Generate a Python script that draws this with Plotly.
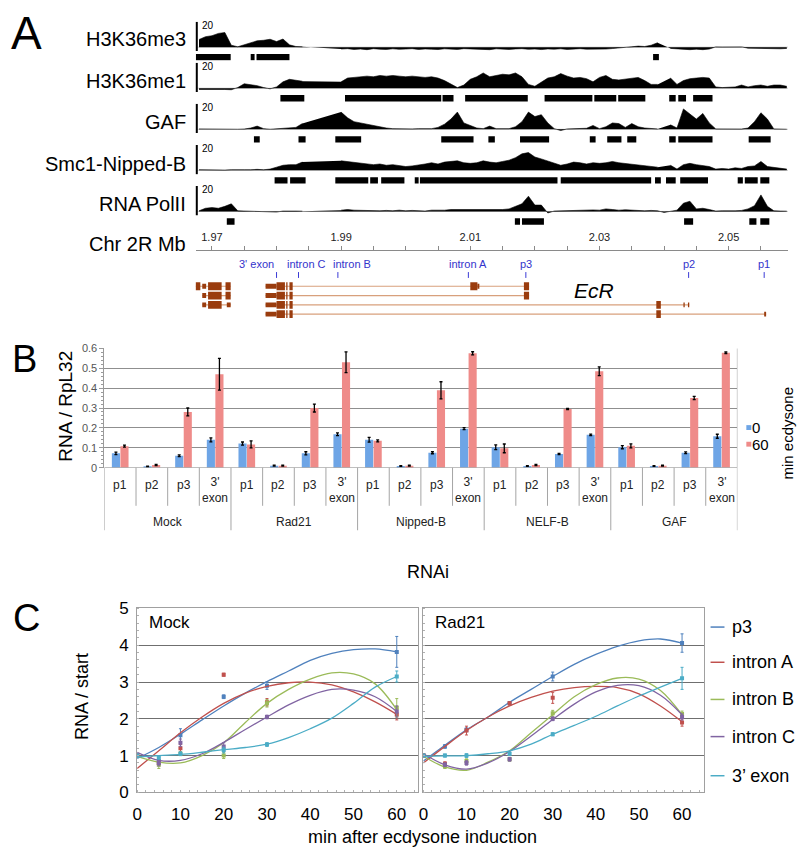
import numpy as np
import plotly.graph_objects as go

W, H = 800, 862
FONT = "Liberation Sans, Arial, Helvetica, sans-serif"


def px(x):
    return x / W


def py(y):
    return 1 - y / H


# ====================== Panel A data ======================
track_names = ["H3K36me3", "H3K36me1", "GAF", "Smc1-Nipped-B", "RNA PolII"]
genome_pos = np.round(np.arange(1.968, 2.0595, 0.001), 4).tolist()  # Mb, 92 bins
N = None
sig_h3k36me3 = [6, 8.2, 9, 10.8, 11.5, 1.5, 0.3, 1.8, 3, 5, 5.4, 6.2, 4.4, 6.4, 1.8, 0.5, 0.3,
                N, N, N, N, N,
                -1.5, -1.2, -1.8, -1.5, -2, -1.2, -1.6, -1.8, -1.3, -1.7,
                -1.5, -1.2, -1.8, -1.4, -1.6, -1.9, -1.3, -1.5, -1.8, -1.2, -1.4, -1.7, -1.5, -2, -1.3,
                -1.6, -1.8, -1.4, -1.2, -1.7, -1.5, -1.9, -1.4, -1.6, -1.3, -1.8, -1.5, -1.2, -1.6,
                -1.7, -1.4, -1.5, -1.1, -0.8, -0.5, 0.3, 0.8,
                0.5, 1.5, 3.5, N, -1, -1.5, -1.8, -2, -1.6, -2, -1.5, 0.2, 0.1, 0.2, 0.1, 0.2,
                -0.8, -1, -1.2, -0.9, -1.1, -1.3, -1]
sig_h3k36me1 = [-1, -1, -0.8, -0.5, -1, -1.2, 0.5, 3.5, 3, 2, 0.5, -0.5, 1, 5, 7, 6.5, 5.5,
                N, N, N, N, N,
                5, 8, 8.5, 9, 9.5, 9, 10, 9.5, 10, 9.5,
                9, 9.5, 9, 8.5, 9, 8, 6, 3, 0.5, 2.5, 7, 9, 12, 9, 10, 11, 10.5, 12, 9, 3,
                1.5, 5, 8, 9, 11.5, 9.5, 8, 8.5, 7.5, 5, 8.5, 10, 7, 6.5, 7, 8, 8.5, 6, 3, 3,
                N,
                8, 3, 6, 7.5, 8, 8.5, 8, 1, 0.5, 0.5, 1, 2.5, 1, 2, 2.5, 1.5, 2.5, 2.5, 1.5]
sig_gaf = [0.3, 0.2, 0.5, 0.2, 0, -0.3, 0, 0.2, 1, 2.5, 0.5, 0, 0.5, 0.8, 1, 1.5, 4.5,
           N, N, N, N, N,
           13.5, 9, 6, 5, 3.5, 2.5, 1.5, 1, 0.5, 0.3,
           0.3, 0.3, 0.5, 0.3, 0.5, 1.5, 4, 8, 13.5, 5, 3, 1, 0.5, 2.5, 0.5, 0.3, 0.5, 2, 6, 13.5,
           10, 11.5, 5, 0.5, -1, 0.3, 0.5, 0.3, 0.8, 3, 0.5, 2, 5, 4.5, 1.5, 4.5, 2, 1, 0.5, 0.3,
           N,
           3.5, 1, 16, 12, 8, 12.5, 5, 0.3, 0.2, 0, 0.2, 0.2, 1, 6, 13, 8, 0.3, 0.2, 0]
sig_smc1 = [0.5, 0.3, 0.5, 0.3, 0.2, 0.5, 0.3, 0.5, 0.5, 0.8, 0.5, 1, 2.5, 4, 4.5, 4.5, 6.5,
            N, N, N, N, N,
            7.5, 7, 6.5, 6, 5, 4.5, 5, 4, 4.5, 4,
            3, 3.5, 4, 5, 6, 5, 6.5, 7, 7.5, 6, 5.5, 6, 7.5, 6.5, 6, 7, 8, 10, 13, 14,
            10.5, 9, 7.5, 6, 4, 5, 6.5, 6, 5, 6, 5.5, 6, 7, 6, 5.5, 5, 4.5, 4, 3.5, 2.5,
            N,
            4, 1, 4.5, 5.5, 4.5, 4, 3, 1, 1.5, 1, 2, 1.5, 3, 3.5, 7, 3, 2.5, 2, 1]
sig_polii = [0.5, 2.5, 3, 2.5, 4, 6, 0.5, 0.3, 0.5, 0.3, 0, -0.3, -0.5, 0.3, 0.5, 0.3, 0.2,
             N, N, N, N, N,
             1, 1.5, 1, 0.8, 0.5, 0.8, 0.5, 0.8, 0.5, 1,
             0.5, 0.8, 0.5, 0.3, 1, 0.8, 1, 1.5, 1.5, 1.2, 1, 1.5, 1, 1.5, 1.3, 1.5, 2, 4, 6, 12,
             5, 5, -1.2, 0.3, 0.5, 0.8, 0.5, 0.8, 1, 1.2, 1, 2, 1.5, 1, 1.3, 1, 1, 0.5, 0.8, 0.5,
             -0.8,
             0.3, 1, 6.5, 8, 2, 2.5, 1.5, 0.3, 0.5, 0.3, 0.5, 0.8, 2, 4.5, 13, 4, 0.5, 0.3, 0.2]
track_signals = [sig_h3k36me3, sig_h3k36me1, sig_gaf, sig_smc1, sig_polii]

peaks_h3k36me3 = [(1.9675, 1.9729), (1.9760, 1.9766), (1.9769, 1.9820), (2.0383, 2.0392)]
peaks_h3k36me1 = [(1.9806, 1.9843), (1.9906, 2.0055), (2.0057, 2.0074), (2.0092, 2.0189),
                  (2.0215, 2.0289), (2.0292, 2.0326), (2.0329, 2.0371), (2.0408, 2.0418),
                  (2.0422, 2.0434), (2.0445, 2.0475)]
peaks_gaf = [(1.9765, 1.9774), (1.9834, 1.9845), (1.9891, 1.9931), (2.0055, 2.0105),
             (2.0128, 2.0138), (2.0177, 2.0222), (2.0285, 2.0294), (2.0312, 2.0334),
             (2.0343, 2.0357), (2.0408, 2.0418), (2.0422, 2.0475), (2.0531, 2.0565)]
peaks_smc1 = [(1.9797, 1.9817), (1.9821, 1.9845), (1.9891, 1.9942), (1.9945, 1.9957),
              (1.9962, 1.9998), (2.0014, 2.0020), (2.0022, 2.0235), (2.0240, 2.0380),
              (2.0386, 2.0395), (2.0403, 2.0418), (2.0425, 2.0468), (2.0514, 2.0522),
              (2.0525, 2.0545), (2.0549, 2.0563)]
peaks_polii = [(1.9723, 1.9735), (2.0169, 2.0177), (2.0180, 2.0214), (2.0431, 2.0445),
               (2.0532, 2.0543), (2.0549, 2.0563)]
track_peaks = [peaks_h3k36me3, peaks_h3k36me1, peaks_gaf, peaks_smc1, peaks_polii]

genome_range = [1.9675, 2.0592]
genome_ticks = [1.97, 1.99, 2.01, 2.03, 2.05]

# gene models: (row, start Mb, end Mb, kind T=coding/S=UTR)
cg_spans = [(0, 1.9674, 1.9729), (1, 1.9685, 1.9729), (2, 1.9685, 1.9729)]
cg_exons = [(0, 1.9674, 1.9682, "T"), (0, 1.9685, 1.9691, "S"), (0, 1.9694, 1.9715, "T"),
            (0, 1.9721, 1.9729, "T"),
            (1, 1.9685, 1.9691, "S"), (1, 1.9694, 1.9715, "T"), (1, 1.9721, 1.9729, "T"),
            (2, 1.9685, 1.9691, "S"), (2, 1.9694, 1.9715, "T"), (2, 1.9723, 1.9729, "S")]
ecr_spans = [(0, 1.9783, 2.0191), (1, 1.9783, 2.0191), (2, 1.9783, 2.0439), (3, 1.9783, 2.0558)]
ecr_exons = []
for r in range(4):
    ecr_exons += [(r, 1.9783, 1.9800, "S"), (r, 1.9800, 1.9813, "T"),
                  (r, 1.9815, 1.9817, "T"), (r, 1.9820, 1.9825, "T")]
ecr_exons += [(0, 2.0100, 2.0111, "T"), (0, 2.0111, 2.0114, "S"), (0, 2.0183, 2.0191, "T"),
              (1, 2.0183, 2.0191, "T"),
              (2, 2.0388, 2.0395, "T"), (2, 2.0430, 2.0432, "S"), (2, 2.0437, 2.0439, "S"),
              (3, 2.0388, 2.0395, "T"), (3, 2.0555, 2.0558, "S")]

probe_names = ["3' exon", "intron C", "intron B", "intron A", "p3", "p2", "p1"]
probe_pos = [1.9800, 1.9834, 1.9895, 2.0097, 2.0186, 2.0438, 2.0555]
probe_label_pos = [1.9769, 1.9846, 1.9917, 2.0097, 2.0186, 2.0438, 2.0555]

# ====================== Panel B data ======================
rnai_groups = ["Mock", "Rad21", "Nipped-B", "NELF-B", "GAF"]
amplicons = ["p1", "p2", "p3", "3'<br>exon"]
rna_0min = [0.072, 0.005, 0.060, 0.140, 0.121, 0.010, 0.072, 0.168, 0.140, 0.008, 0.075, 0.196,
            0.103, 0.008, 0.069, 0.165, 0.103, 0.008, 0.075, 0.158]
err_0min = [0.006, 0.002, 0.004, 0.010, 0.008, 0.002, 0.008, 0.007, 0.012, 0.002, 0.005, 0.005,
            0.012, 0.002, 0.003, 0.004, 0.008, 0.002, 0.004, 0.010]
rna_60min = [0.108, 0.013, 0.280, 0.470, 0.117, 0.010, 0.300, 0.530, 0.135, 0.010, 0.389, 0.575,
             0.097, 0.013, 0.295, 0.485, 0.110, 0.010, 0.350, 0.578]
err_60min = [0.005, 0.003, 0.020, 0.080, 0.018, 0.002, 0.020, 0.052, 0.005, 0.002, 0.043, 0.008,
             0.022, 0.003, 0.003, 0.022, 0.010, 0.002, 0.008, 0.004]

# ====================== Panel C data ======================
series_names = ["p3", "intron A", "intron B", "intron C", "3\u2019 exon"]
series_colors = ["#4f81bd", "#c0504d", "#9bbb59", "#8064a2", "#4bacc6"]
times = [0, 5, 10, 20, 30, 60]
mock_pts = [[1.0, 0.85, 1.55, 2.6, 2.9, 3.82],
            [1.0, 0.8, 1.2, 3.2, 2.45, 2.12],
            [1.0, 0.75, 1.05, 1.0, 2.42, 2.3],
            [1.0, 0.8, 1.35, 1.25, 2.05, 2.2],
            [1.0, 0.95, 1.05, 1.15, 1.3, 3.15]]
mock_err = [[0.03, 0.1, 0.18, 0.05, 0.1, 0.42],
            [0.03, 0.05, 0.1, 0.04, 0.1, 0.15],
            [0.03, 0.1, 0.05, 0.08, 0.1, 0.25],
            [0.03, 0.08, 0.1, 0.1, 0.05, 0.15],
            [0.03, 0.05, 0.05, 0.08, 0.05, 0.15]]
rad21_pts = [[1.0, 1.25, 1.7, 2.42, 3.15, 4.06],
             [1.0, 0.78, 1.68, 2.42, 2.57, 1.9],
             [1.0, 0.7, 0.85, 0.9, 2.15, 2.13],
             [1.0, 0.75, 0.8, 0.9, 2.0, 2.05],
             [1.0, 1.0, 1.0, 1.05, 1.58, 3.1]]
rad21_err = [[0.03, 0.05, 0.05, 0.04, 0.12, 0.25],
             [0.03, 0.05, 0.12, 0.04, 0.15, 0.1],
             [0.03, 0.05, 0.06, 0.05, 0.08, 0.08],
             [0.03, 0.05, 0.06, 0.05, 0.05, 0.08],
             [0.03, 0.04, 0.05, 0.04, 0.04, 0.3]]
trend_t = [0, 5, 10, 15, 20, 25, 30, 35, 40, 45, 50, 55, 60]
mock_trend = [[0.92, 1.22, 1.58, 1.97, 2.35, 2.7, 3.01, 3.3, 3.59, 3.78, 3.88, 3.9, 3.82],
              [0.65, 1.13, 1.62, 2.05, 2.42, 2.7, 2.88, 2.98, 3.0, 2.92, 2.73, 2.46, 2.12],
              [0.98, 0.82, 0.8, 1.0, 1.35, 1.9, 2.42, 2.8, 3.08, 3.25, 3.22, 2.95, 2.25],
              [1.09, 0.87, 0.87, 1.05, 1.36, 1.71, 2.05, 2.38, 2.64, 2.8, 2.78, 2.6, 2.2],
              [0.96, 1.0, 1.03, 1.09, 1.16, 1.22, 1.31, 1.49, 1.73, 2.02, 2.42, 2.86, 3.15]]
rad21_trend = [[0.85, 1.28, 1.7, 2.05, 2.45, 2.8, 3.15, 3.48, 3.75, 3.97, 4.12, 4.17, 4.06],
               [0.8, 1.25, 1.68, 2.05, 2.35, 2.58, 2.75, 2.85, 2.88, 2.85, 2.68, 2.35, 1.92],
               [0.98, 0.69, 0.6, 0.82, 1.13, 1.62, 2.11, 2.6, 2.93, 3.11, 3.08, 2.77, 2.11],
               [1.05, 0.75, 0.63, 0.8, 1.11, 1.53, 1.98, 2.4, 2.73, 2.91, 2.9, 2.64, 2.11],
               [0.98, 0.99, 1.0, 1.05, 1.13, 1.31, 1.58, 1.82, 2.07, 2.35, 2.62, 2.86, 3.1]]

# ====================== Build figure ======================
fig = go.Figure()
shapes = []
annotations = []
layout = {}

# ---- Panel A tracks ----
GX0, GX1 = 192, 788
layout["xaxis"] = dict(domain=[px(GX0), px(GX1)], range=genome_range, anchor="y6", side="top",
                       showgrid=False, zeroline=False, showline=True, linecolor="#8a8a8a",
                       linewidth=1, tickvals=genome_ticks, tickformat=".2f",
                       ticks="outside", ticklen=4, tickcolor="#8a8a8a",
                       minor=dict(dtick=0.005, tick0=1.97, ticks="outside", ticklen=4,
                                  tickcolor="#8a8a8a"),
                       tickfont=dict(size=11, color="#222", family=FONT))
UNIT = 1.3  # px per signal unit
for k in range(5):
    yname = "y" if k == 0 else f"y{k + 1}"
    ykey = "yaxis" if k == 0 else f"yaxis{k + 1}"
    top = 13 + 42 * k
    base = 39 + 42 * k
    bot = 53 + 42 * k
    layout[ykey] = dict(domain=[py(bot), py(top)], range=[-(bot - base) / UNIT, 20], anchor="x",
                        visible=False)
    fig.add_trace(go.Scatter(x=genome_pos, y=track_signals[k], xaxis="x", yaxis=yname,
                             mode="lines", fill="tozeroy", fillcolor="black",
                             line=dict(color="black", width=0.6), connectgaps=False,
                             hoverinfo="skip", showlegend=False))
    shapes.append(dict(type="line", xref="x", yref=yname, x0=genome_range[0], x1=genome_range[1],
                       y0=0, y1=0, line=dict(color="#cfcfcf", width=1), layer="below"))
    shapes.append(dict(type="line", xref="paper", yref=yname, x0=px(193), x1=px(193),
                       y0=-3, y1=20, line=dict(color="black", width=2)))
    for s, e in track_peaks[k]:
        shapes.append(dict(type="rect", xref="x", yref=yname, x0=s, x1=e,
                           y0=-(46 - 39) / UNIT, y1=-(52.5 - 39) / UNIT,
                           fillcolor="black", line=dict(width=0)))
    label_py = [31, 74, 116, 158, 199][k]
    annotations.append(dict(text=track_names[k], x=px(184), y=py(label_py), xref="paper",
                            yref="paper", xanchor="right", yanchor="middle", showarrow=False,
                            font=dict(size=20, color="black", family=FONT)))
    annotations.append(dict(text="20", x=px(196), y=py(17 + 42 * k), xref="paper", yref="paper",
                            xanchor="left", yanchor="middle", showarrow=False,
                            font=dict(size=10, color="black", family=FONT)))

annotations.append(dict(text="Chr 2R Mb", x=px(184), y=py(240), xref="paper", yref="paper",
                        xanchor="right", yanchor="middle", showarrow=False,
                        font=dict(size=20, color="black", family=FONT)))

# ---- Gene model (y6: pixel offsets below the coordinate axis) ----
layout["yaxis6"] = dict(domain=[py(325), py(247)], range=[78, 0], anchor="x", visible=False)
row_y = [36.5, 46, 55.5, 65]
EXON = "#9a3c0e"
for spans, exons in [(cg_spans, cg_exons), (ecr_spans, ecr_exons)]:
    for r, s, e in spans:
        shapes.append(dict(type="line", xref="x", yref="y6", x0=s, x1=e, y0=row_y[r],
                           y1=row_y[r], line=dict(color="#d8a07c", width=1.2)))
    for r, s, e, kind in exons:
        hh = 4 if kind == "T" else 2.5
        shapes.append(dict(type="rect", xref="x", yref="y6", x0=s, x1=e,
                           y0=row_y[r] - hh, y1=row_y[r] + hh,
                           fillcolor=EXON, line=dict(width=0)))
for name, p, lp in zip(probe_names, probe_pos, probe_label_pos):
    shapes.append(dict(type="line", xref="x", yref="y6", x0=p, x1=p, y0=22, y1=28,
                       line=dict(color="#3b3bd6", width=1)))
    annotations.append(dict(text=name, x=lp, y=14, xref="x", yref="y6", xanchor="center",
                            yanchor="middle", showarrow=False,
                            font=dict(size=11, color="#3333cc", family=FONT)))
annotations.append(dict(text="<i>EcR</i>", x=2.0292, y=41, xref="x", yref="y6",
                        xanchor="center", yanchor="middle", showarrow=False,
                        font=dict(size=21, color="black", family=FONT)))

# ---- Panel B ----
ncat = len(rnai_groups) * len(amplicons)
cat_x = list(range(ncat))
layout["xaxis2"] = dict(domain=[px(100), px(737)], range=[-0.5, ncat - 0.5], anchor="y7",
                        visible=False)
layout["yaxis7"] = dict(domain=[py(469), py(347)], range=[0, 0.6], anchor="x2",
                        tickvals=[0, 0.1, 0.2, 0.3, 0.4, 0.5, 0.6],
                        ticktext=["0", "0.1", "0.2", "0.3", "0.4", "0.5", "0.6"],
                        showgrid=True, gridcolor="#8f8f8f", gridwidth=1, zeroline=False,
                        showline=True, linecolor="#9a9a9a", ticks="outside", ticklen=4,
                        tickcolor="#9a9a9a",
                        minor=dict(dtick=0.02, ticks="outside", ticklen=2, tickcolor="#9a9a9a"),
                        tickfont=dict(size=11, color="#555", family=FONT))
fig.add_trace(go.Bar(x=cat_x, y=rna_0min, xaxis="x2", yaxis="y7", name="0",
                     marker=dict(color="#6ea5e6", line=dict(width=0)),
                     error_y=dict(type="data", array=err_0min, color="black", thickness=1.3,
                                  width=1.5), showlegend=False))
fig.add_trace(go.Bar(x=cat_x, y=rna_60min, xaxis="x2", yaxis="y7", name="60",
                     marker=dict(color="#ef8b89", line=dict(width=0)),
                     error_y=dict(type="data", array=err_60min, color="black", thickness=1.3,
                                  width=1.5), showlegend=False))
shapes.append(dict(type="line", xref="x2", yref="y7", x0=-0.5, x1=ncat - 0.5, y0=0, y1=0,
                   line=dict(color="#9a9a9a", width=1)))
shapes.append(dict(type="line", xref="x2", yref="y7", x0=ncat - 0.5, x1=ncat - 0.5, y0=0,
                   y1=0.6, line=dict(color="#9a9a9a", width=1)))
for i in range(ncat + 1):
    is_group = i % len(amplicons) == 0
    shapes.append(dict(type="line", xref="x2", yref="paper", x0=i - 0.5, x1=i - 0.5,
                       y0=py(469), y1=py(533 if is_group else 508),
                       line=dict(color="#a5a5a5", width=1)))
for g, grp in enumerate(rnai_groups):
    for a, amp in enumerate(amplicons):
        i = g * len(amplicons) + a
        annotations.append(dict(text=amp, x=i, y=py(492 if "<br>" in amp else 487), xref="x2",
                                yref="paper", xanchor="center", yanchor="middle",
                                showarrow=False,
                                font=dict(size=12, color="#222", family=FONT)))
    annotations.append(dict(text=grp, x=g * len(amplicons) + 1.5, y=py(525), xref="x2",
                            yref="paper", xanchor="center", yanchor="middle", showarrow=False,
                            font=dict(size=12, color="#222", family=FONT)))
annotations.append(dict(text="RNA / RpL32", x=px(60), y=py(406), xref="paper", yref="paper",
                        textangle=-90, xanchor="center", yanchor="middle", showarrow=False,
                        font=dict(size=19, color="black", family=FONT)))
annotations.append(dict(text="RNAi", x=px(426), y=py(576), xref="paper", yref="paper",
                        xanchor="center", yanchor="middle", showarrow=False,
                        font=dict(size=18, color="black", family=FONT)))
annotations.append(dict(text="min ecdysone", x=px(787), y=py(434), xref="paper", yref="paper",
                        textangle=-90, xanchor="center", yanchor="middle", showarrow=False,
                        font=dict(size=15, color="black", family=FONT)))
for lab, col, ly in [("0", "#6ea5e6", 428), ("60", "#ef8b89", 445)]:
    shapes.append(dict(type="rect", xref="paper", yref="paper", x0=px(746), x1=px(751),
                       y0=py(ly + 2.5), y1=py(ly - 2.5), fillcolor=col, line=dict(width=0)))
    annotations.append(dict(text=lab, x=px(751), y=py(ly), xref="paper", yref="paper",
                            xanchor="left", yanchor="middle", showarrow=False, borderpad=0,
                            font=dict(size=15, color="black", family=FONT)))

# ---- Panel C ----
for j, (xk, yk, x0, x1, pts, errs, trend, title) in enumerate([
        ("xaxis3", "yaxis8", 133, 416, mock_pts, mock_err, mock_trend, "Mock"),
        ("xaxis4", "yaxis9", 421, 703, rad21_pts, rad21_err, rad21_trend, "Rad21")]):
    xn = "x3" if j == 0 else "x4"
    yn = "y8" if j == 0 else "y9"
    layout[xk] = dict(domain=[px(x0), px(x1)], range=[0, 65], anchor=yn,
                      tickvals=[0, 10, 20, 30, 40, 50, 60], showgrid=False, zeroline=False,
                      showline=True, mirror=True, linecolor="#a0a0a0", ticks="",
                      minor=dict(dtick=2, ticks="inside", ticklen=2, tickcolor="#b0b0b0"),
                      ticklabelstandoff=6,
                      tickfont=dict(size=17, color="black", family=FONT))
    layout[yk] = dict(domain=[py(801), py(613)], range=[0, 5], anchor=xn,
                      tickvals=[0, 1, 2, 3, 4, 5], showgrid=True, gridcolor="#6f6f6f",
                      gridwidth=1.2, zeroline=False, showline=True, mirror=True,
                      linecolor="#a0a0a0", ticks="", showticklabels=(j == 0),
                      minor=dict(dtick=0.2, ticks="inside", ticklen=2, tickcolor="#b0b0b0"),
                      ticklabelstandoff=4,
                      tickfont=dict(size=17, color="black", family=FONT))
    for s in range(len(series_names)):
        c = series_colors[s]
        fig.add_trace(go.Scatter(x=trend_t, y=trend[s], xaxis=xn, yaxis=yn, mode="lines",
                                 line=dict(color=c, width=1.3, shape="spline", smoothing=1.0),
                                 hoverinfo="skip", showlegend=False))
        fig.add_trace(go.Scatter(x=times, y=pts[s], xaxis=xn, yaxis=yn, mode="markers",
                                 marker=dict(color=c, size=4, symbol="square"),
                                 error_y=dict(type="data", array=errs[s], color=c,
                                              thickness=1, width=1.5),
                                 name=series_names[s], showlegend=False))
    annotations.append(dict(text=title, x=px(x0 + 10), y=py(627), xref="paper", yref="paper",
                            xanchor="left", yanchor="middle", showarrow=False,
                            font=dict(size=17, color="black", family=FONT)))

legend_py = [632, 668, 706, 744, 784]
for s, name in enumerate(series_names):
    shapes.append(dict(type="line", xref="paper", yref="paper", x0=px(710), x1=px(724),
                       y0=py(legend_py[s]), y1=py(legend_py[s]),
                       line=dict(color=series_colors[s], width=1.5)))
    annotations.append(dict(text=name, x=px(730), y=py(legend_py[s]), xref="paper",
                            yref="paper", xanchor="left", yanchor="middle", showarrow=False,
                            font=dict(size=18, color="black", family=FONT)))

annotations.append(dict(text="RNA / start", x=px(77), y=py(703), xref="paper", yref="paper",
                        textangle=-90, xanchor="center", yanchor="middle", showarrow=False,
                        font=dict(size=18, color="black", family=FONT)))
annotations.append(dict(text="min after ecdysone induction", x=px(420), y=py(847),
                        xref="paper", yref="paper", xanchor="center", yanchor="middle",
                        showarrow=False, font=dict(size=18, color="black", family=FONT)))

# ---- Panel letters ----
for letter, lx, ly, size in [("A", 22, 25, 46), ("B", 20, 358, 38), ("C", 22, 623, 38)]:
    annotations.append(dict(text=letter, x=px(lx), y=py(ly), xref="paper", yref="paper",
                            xanchor="center", yanchor="middle", showarrow=False,
                            font=dict(size=size, color="black", family=FONT)))

fig.update_layout(width=W, height=H, margin=dict(l=0, r=0, t=0, b=0),
                  paper_bgcolor="white", plot_bgcolor="white", showlegend=False,
                  barmode="group", bargap=0.46, bargroupgap=0.05,
                  font=dict(family=FONT, color="black"),
                  shapes=shapes, annotations=annotations, **layout)
fig.write_html("out.html", config={"displayModeBar": False},
               post_script="document.body.style.margin='0px';")
